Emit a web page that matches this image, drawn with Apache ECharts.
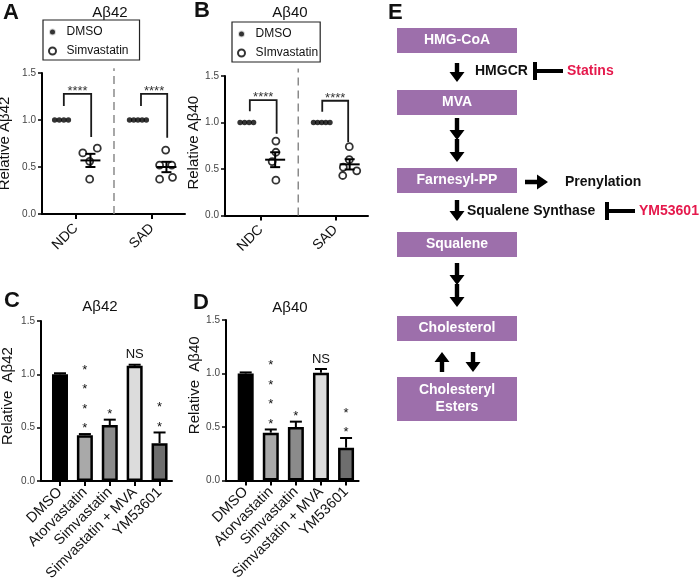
<!DOCTYPE html>
<html><head><meta charset="utf-8">
<script src="https://cdn.jsdelivr.net/npm/echarts@6/dist/echarts.min.js"></script>
<style>html,body{margin:0;padding:0;background:#fff}#c{width:700px;height:587px}</style>
</head><body><div id="c"></div><script>
const FONT = '"Liberation Sans", Arial, Helvetica, sans-serif';

// ---------- Panels A & B : scatter (relative to DMSO) ----------
const groupsAB = ['NDC', 'SAD'];
const a42DmsoNDC = [1.0, 1.0, 1.0, 1.0];
const a42DmsoSAD = [1.0, 1.0, 1.0, 1.0, 1.0];
const a42SimNDC = [0.65, 0.70, 0.56, 0.37];
const a42SimSAD = [0.68, 0.52, 0.52, 0.37, 0.39];
const a42SimMean = [0.57, 0.50];
const a42SimSem = [0.07, 0.055];

const a40DmsoNDC = [1.0, 1.0, 1.0, 1.0];
const a40DmsoSAD = [1.0, 1.0, 1.0, 1.0, 1.0];
const a40SimNDC = [0.80, 0.68, 0.58, 0.38];
const a40SimSAD = [0.74, 0.60, 0.52, 0.48, 0.43];
const a40SimMean = [0.60, 0.55];
const a40SimSem = [0.08, 0.055];

// significance brackets: [x1, x2, top, leftLegEnd, rightLegEnd] (data units)
const bracketA = [[-0.16, 0.20, 1.277, 1.15, 0.82], [0.855, 1.20, 1.277, 1.15, 0.81]];
const bracketB = [[-0.15, 0.21, 1.24, 1.12, 0.88], [0.822, 1.17, 1.234, 1.116, 0.79]];
const sigAB = '****';
const sepTop = [1.55, 1.58];

// ---------- Panels C & D : bars ----------
const treatments = ['DMSO', 'Atorvastatin', 'Simvastatin', 'Simvastatin + MVA', 'YM53601'];
const c42Mean = [1.00, 0.43, 0.525, 1.08, 0.355];
const c42Err  = [0.01, 0.01, 0.05, 0.01, 0.10];
const d40Mean = [1.00, 0.447, 0.50, 1.007, 0.307];
const d40Err  = [0.01, 0.03, 0.05, 0.035, 0.09];
const sigC = ['', '****', '*', 'NS', '**'];
const sigD = ['', '****', '*', 'NS', '**'];

// layout-only helpers (horizontal scatter of points inside a group)
const dmsoJit4 = [-0.28, -0.22, -0.16, -0.10];
const dmsoJit5 = [-0.295, -0.24, -0.185, -0.13, -0.075];
const simJitA = [[0.09, 0.28, 0.18, 0.18], [0.18, 0.10, 0.26, 0.10, 0.27]];
const simJitB = [[0.20, 0.20, 0.15, 0.20], [0.185, 0.185, 0.105, 0.285, 0.097]];
const meanOff = 0.19;
const barColors = ['#000000', '#a9a9a9', '#8b8b8b', '#dcdcdc', '#6e6e6e'];

function pts(vals, jit, gi) { return vals.map((v, k) => [gi + jit[k], v]); }

function meanSemItem(params, api) {
  const x = api.value(0), m = api.value(1), s = api.value(2);
  const c = api.coord([x, m]), t = api.coord([x, m + s]), b = api.coord([x, m - s]);
  const st = { stroke: '#000', lineWidth: 2, fill: null };
  return { type: 'group', children: [
    { type: 'line', shape: { x1: c[0] - 10, y1: c[1], x2: c[0] + 10, y2: c[1] }, style: st },
    { type: 'line', shape: { x1: c[0], y1: t[1], x2: c[0], y2: b[1] }, style: st },
    { type: 'line', shape: { x1: c[0] - 5, y1: t[1], x2: c[0] + 5, y2: t[1] }, style: st },
    { type: 'line', shape: { x1: c[0] - 5, y1: b[1], x2: c[0] + 5, y2: b[1] }, style: st }
  ]};
}
function bracketItem(params, api) {
  const x1 = api.value(0), x2 = api.value(1), top = api.value(2), yl = api.value(3), yr = api.value(4);
  const p1 = api.coord([x1, yl]), p2 = api.coord([x1, top]), p3 = api.coord([x2, top]), p4 = api.coord([x2, yr]);
  return { type: 'group', children: [
    { type: 'polyline', shape: { points: [p1, p2, p3, p4] }, style: { stroke: '#1a1a1a', lineWidth: 1.8, fill: null } },
    { type: 'text', x: (p2[0] + p3[0]) / 2, y: p2[1] - 2.5,
      style: { text: sigAB, fontSize: 13, fontFamily: FONT, fill: '#333', align: 'center', verticalAlign: 'middle' } }
  ]};
}
function errItem(params, api) {
  const i = api.value(0), m = api.value(1), e = api.value(2);
  const b = api.coord([i, m]), t = api.coord([i, m + e]);
  const st = { stroke: '#000', lineWidth: 2, fill: null };
  return { type: 'group', children: [
    { type: 'line', shape: { x1: b[0], y1: b[1], x2: b[0], y2: t[1] }, style: st },
    { type: 'line', shape: { x1: b[0] - 6, y1: t[1], x2: b[0] + 6, y2: t[1] }, style: st }
  ]};
}
function sigItemFactory(sig) {
  return function (params, api) {
    const i = api.value(0), m = api.value(1), e = api.value(2);
    const t = api.coord([i, m + e]);
    const s = sig[i];
    const children = [];
    if (s === 'NS') {
      children.push({ type: 'text', x: t[0], y: t[1] - 10,
        style: { text: 'NS', fontSize: 13, fontFamily: FONT, fill: '#111', align: 'center', verticalAlign: 'middle' } });
    } else {
      for (let j = 0; j < s.length; j++) {
        children.push({ type: 'text', x: t[0], y: t[1] - 5.5 - j * 19.5,
          style: { text: '*', fontSize: 13, fontFamily: FONT, fill: '#111', align: 'center', verticalAlign: 'middle' } });
      }
    }
    return { type: 'group', children };
  };
}

function yAxisOf(gi, name, gap, shift) {
  return {
    type: 'value', gridIndex: gi, min: 0, max: 1.5, interval: 0.5,
    axisLine: { show: true, onZero: false, lineStyle: { color: '#000', width: 2 } },
    axisTick: { show: true, length: 4, lineStyle: { color: '#000', width: 1.5 } },
    axisLabel: { fontSize: 10, color: '#444', margin: 6, fontFamily: FONT, formatter: v => v.toFixed(1) },
    splitLine: { show: false },
    name, nameLocation: 'middle', nameGap: gap,
    nameTextStyle: { fontSize: 15, color: '#111', fontFamily: FONT, padding: [0, 0, 0, shift || 0] }
  };
}
function xAxisScatter(gi, min, max) {
  return {
    type: 'value', gridIndex: gi, min, max,
    axisLine: { show: true, onZero: false, lineStyle: { color: '#000', width: 2 } },
    axisTick: { show: true, customValues: [0, 1], length: 5, lineStyle: { color: '#000', width: 2 } },
    axisLabel: { customValues: [0, 1], formatter: v => groupsAB[Math.round(v)], rotate: 45,
      fontSize: 14, color: '#111', margin: 12, fontFamily: FONT },
    splitLine: { show: false }
  };
}
function xAxisBars(gi, min, max) {
  return {
    type: 'value', gridIndex: gi, min, max,
    axisLine: { show: true, onZero: false, lineStyle: { color: '#000', width: 2 } },
    axisTick: { show: true, customValues: [0, 1, 2, 3, 4], length: 5, lineStyle: { color: '#000', width: 2 } },
    axisLabel: { customValues: [0, 1, 2, 3, 4], formatter: v => treatments[Math.round(v)], rotate: 45,
      fontSize: 14.5, color: '#111', margin: 9, fontFamily: FONT },
    splitLine: { show: false }
  };
}

function scatterSeries(ax, dmsoNDC, dmsoSAD, simNDC, simSAD, simJit, simName, mean, sem, brackets, top) {
  return [
    { type: 'line', xAxisIndex: ax, yAxisIndex: ax, data: [[0.5, 0], [0.5, top]], symbol: 'none', clip: false,
      silent: true, lineStyle: { color: '#8a8a8a', width: 1.5, type: [8, 5] }, z: 1 },
    { type: 'scatter', name: 'DMSO', xAxisIndex: ax, yAxisIndex: ax, symbol: 'circle', symbolSize: 5.5,
      itemStyle: { color: '#000' }, data: pts(dmsoNDC, dmsoNDC.length === 4 ? dmsoJit4 : dmsoJit5, 0)
        .concat(pts(dmsoSAD, dmsoSAD.length === 4 ? dmsoJit4 : dmsoJit5, 1)), z: 3 },
    { type: 'scatter', name: simName, xAxisIndex: ax, yAxisIndex: ax, symbol: 'circle', symbolSize: 7,
      itemStyle: { color: '#fff', borderColor: '#000', borderWidth: 1.8 },
      data: pts(simNDC, simJit[0], 0).concat(pts(simSAD, simJit[1], 1)), z: 3 },
    { type: 'custom', xAxisIndex: ax, yAxisIndex: ax, renderItem: meanSemItem, z: 4,
      data: groupsAB.map((g, i) => [i + meanOff, mean[i], sem[i]]) },
    { type: 'custom', xAxisIndex: ax, yAxisIndex: ax, renderItem: bracketItem, z: 4, data: brackets }
  ];
}
function barSeries(ax, mean, err, sig) {
  return [
    { type: 'bar', xAxisIndex: ax, yAxisIndex: ax, barWidth: 16,
      itemStyle: { borderColor: '#000', borderWidth: 2.5 },
      data: treatments.map((t, i) => ({ value: [i, mean[i]], itemStyle: { color: barColors[i] } })) },
    { type: 'custom', xAxisIndex: ax, yAxisIndex: ax, renderItem: errItem, z: 4,
      data: treatments.map((t, i) => [i, mean[i], err[i]]) },
    { type: 'custom', xAxisIndex: ax, yAxisIndex: ax, renderItem: sigItemFactory(sig), z: 4,
      data: treatments.map((t, i) => [i, mean[i], err[i]]) }
  ];
}

// ---------- Panel E : pathway diagram ----------
const PURPLE = '#9d6fab', RED = '#e5194c';
const boxes = [
  ['HMG-CoA', 28, 25], ['MVA', 90, 25], ['Farnesyl-PP', 168, 25],
  ['Squalene', 232, 25], ['Cholesterol', 316, 25], ['Cholesteryl\nEsters', 377, 44]
];
function boxEls(text, y, h) {
  return [
    { type: 'rect', shape: { x: 397, y, width: 120, height: h }, style: { fill: PURPLE } },
    { type: 'text', x: 457, y: y + h / 2, style: { text, fill: '#fff', fontSize: 14, fontWeight: 'bold',
      fontFamily: FONT, align: 'center', verticalAlign: 'middle', lineHeight: 17 } }
  ];
}
function vArrow(x, yTail, yTip) {
  const sw = 2.2, hw = 7.5, hl = 10 * Math.sign(yTip - yTail);
  return { type: 'polygon', shape: { points: [[x - sw, yTail], [x + sw, yTail], [x + sw, yTip - hl], [x + hw, yTip - hl],
    [x, yTip], [x - hw, yTip - hl], [x - sw, yTip - hl]] }, style: { fill: '#000' } };
}
function hArrow(xTail, xTip, y) {
  const sw = 2.2, hw = 7.5, hl = 11;
  return { type: 'polygon', shape: { points: [[xTail, y - sw], [xTip - hl, y - sw], [xTip - hl, y - hw], [xTip, y],
    [xTip - hl, y + hw], [xTip - hl, y + sw], [xTail, y + sw]] }, style: { fill: '#000' } };
}
function inhibitor(x, y, len) {
  return [
    { type: 'rect', shape: { x: x - 2, y: y - 9, width: 4, height: 18 }, style: { fill: '#000' } },
    { type: 'rect', shape: { x: x, y: y - 2, width: len, height: 4 }, style: { fill: '#000' } }
  ];
}
function label(text, x, y, color, size) {
  return { type: 'text', x, y, style: { text, fill: color, fontSize: size || 14, fontWeight: 'bold',
    fontFamily: FONT, align: 'left', verticalAlign: 'middle' } };
}

const diagram = [].concat(
  ...boxes.map(b => boxEls(b[0], b[1], b[2])),
  [vArrow(457, 63, 82)],
  [vArrow(457, 118, 140), vArrow(457, 139, 162)],
  [hArrow(525, 548, 182)],
  [vArrow(457, 200, 221)],
  [vArrow(457, 263, 285), vArrow(457, 284, 307)],
  [vArrow(442, 372, 352), vArrow(473, 352, 372)],
  inhibitor(535, 71, 28), inhibitor(607, 211, 28),
  [label('HMGCR', 475, 71, '#111'), label('Statins', 567, 71, RED),
   label('Prenylation', 565, 182, '#111'), label('Squalene Synthase', 467, 211, '#111'),
   label('YM53601', 639, 211, RED)]
);

const panelText = [
  label('A', 3, 13, '#111', 22), label('B', 194, 11, '#111', 22),
  label('C', 4, 301, '#111', 22), label('D', 193, 303, '#111', 22), label('E', 388, 13, '#111', 22),
  { type: 'text', x: 110, y: 13, style: { text: 'Aβ42', fontSize: 15, fontFamily: FONT, fill: '#111', align: 'center', verticalAlign: 'middle' } },
  { type: 'text', x: 290, y: 13, style: { text: 'Aβ40', fontSize: 15, fontFamily: FONT, fill: '#111', align: 'center', verticalAlign: 'middle' } },
  { type: 'text', x: 100, y: 307, style: { text: 'Aβ42', fontSize: 15, fontFamily: FONT, fill: '#111', align: 'center', verticalAlign: 'middle' } },
  { type: 'text', x: 290, y: 308, style: { text: 'Aβ40', fontSize: 15, fontFamily: FONT, fill: '#111', align: 'center', verticalAlign: 'middle' } }
];

const legendCommon = {
  orient: 'vertical', itemWidth: 18, itemHeight: 7, itemGap: 7, padding: [6, 11, 3, 5],
  borderColor: '#222', borderWidth: 1.2, selectedMode: false,
  textStyle: { fontSize: 12, lineHeight: 12, color: '#111', fontFamily: FONT }
};

const option = {
  animation: false,
  backgroundColor: '#fff',
  textStyle: { fontFamily: FONT },
  grid: [
    { left: 42, top: 73, width: 143, height: 141, outerBoundsMode: 'none' },
    { left: 225, top: 76, width: 143, height: 139.5, outerBoundsMode: 'none' },
    { left: 41, top: 321, width: 131, height: 160, outerBoundsMode: 'none' },
    { left: 226, top: 320, width: 132.6, height: 160.5, outerBoundsMode: 'none' }
  ],
  xAxis: [
    xAxisScatter(0, -0.447, 1.434),
    xAxisScatter(1, -0.483, 1.436),
    xAxisBars(2, -0.763, 4.5),
    xAxisBars(3, -0.785, 4.5)
  ],
  yAxis: [
    yAxisOf(0, 'Relative Aβ42', 30, 0),
    yAxisOf(1, 'Relative Aβ40', 17, 6),
    yAxisOf(2, 'Relative  Aβ42', 26, 10),
    yAxisOf(3, 'Relative  Aβ40', 19, 30)
  ],
  legend: [
    Object.assign({}, legendCommon, { left: 43, top: 20, data: [
      { name: 'DMSO', itemStyle: { color: '#000', borderColor: '#fff', borderWidth: 2 } }, 'Simvastatin'] }),
    Object.assign({}, legendCommon, { left: 232, top: 22, padding: [6, 2, 3, 5], data: [
      { name: 'DMSO', itemStyle: { color: '#000', borderColor: '#fff', borderWidth: 2 } }, 'SImvastatin'] })
  ],
  series: [].concat(
    scatterSeries(0, a42DmsoNDC, a42DmsoSAD, a42SimNDC, a42SimSAD, simJitA, 'Simvastatin', a42SimMean, a42SimSem, bracketA, sepTop[0]),
    scatterSeries(1, a40DmsoNDC, a40DmsoSAD, a40SimNDC, a40SimSAD, simJitB, 'SImvastatin', a40SimMean, a40SimSem, bracketB, sepTop[1]),
    barSeries(2, c42Mean, c42Err, sigC),
    barSeries(3, d40Mean, d40Err, sigD)
  ),
  graphic: { elements: diagram.concat(panelText) }
};

const chart = echarts.init(document.getElementById('c'), null, { renderer: 'canvas' });
chart.setOption(option);
</script></body></html>
